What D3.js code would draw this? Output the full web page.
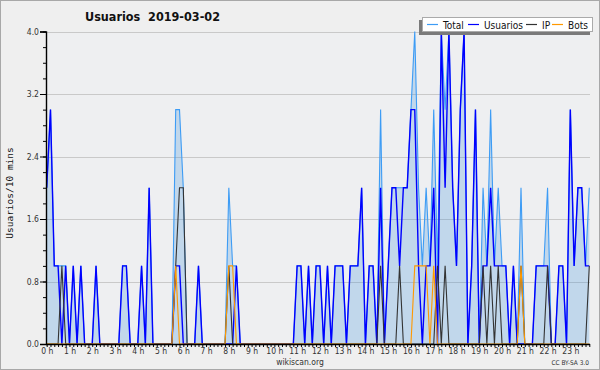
<!DOCTYPE html>
<html>
<head>
<meta charset="utf-8">
<script src="https://cdn.jsdelivr.net/npm/d3@7"></script>
<style>
body { margin: 0; background: #fff; }
svg { display: block; font-family: "DejaVu Sans Condensed", "DejaVu Sans", sans-serif; }
</style>
</head>
<body>
<svg id="chart" width="600" height="370"></svg>
<script>
"use strict";

// one value per 10 minutes, 0:00 -> 23:50
const usuarios = [
    2, 3, 1, 1, 0, 1, 0, 1, 0, 1,
    0, 0, 0, 1, 0, 0, 0, 0, 0, 0,
    1, 1, 0, 0, 0, 1, 0, 2, 0, 0,
    0, 0, 0, 0, 1, 1, 0, 0, 0, 0,
    1, 0, 0, 0, 0, 0, 0, 0, 0, 0,
    1, 0, 0, 0, 0, 0, 0, 0, 0, 0,
    0, 0, 0, 0, 0, 0, 1, 1, 0, 1,
    0, 1, 1, 0, 1, 0, 1, 1, 1, 0,
    1, 1, 1, 2, 0, 1, 1, 0, 2, 0,
    1, 2, 2, 1, 2, 2, 3, 3, 1, 0,
    1, 1, 2, 0, 4, 2, 4, 2, 1, 3,
    4, 0, 1, 3, 0, 1, 1, 2, 1, 1,
    1, 1, 0, 1, 0, 0, 0, 0, 0, 1,
    1, 1, 1, 0, 0, 1, 1, 0, 3, 1,
    2, 2, 1, 1
];
const ip = [
    0, 0, 0, 0, 1, 0, 0, 0, 0, 0,
    0, 0, 0, 0, 0, 0, 0, 0, 0, 0,
    0, 0, 0, 0, 0, 0, 0, 0, 0, 0,
    0, 0, 0, 0, 1, 2, 2, 0, 0, 0,
    0, 0, 0, 0, 0, 0, 0, 0, 1, 0,
    0, 0, 0, 0, 0, 0, 0, 0, 0, 0,
    0, 0, 0, 0, 0, 0, 0, 0, 0, 0,
    0, 0, 0, 0, 0, 0, 0, 0, 0, 0,
    0, 0, 0, 0, 0, 0, 0, 0, 1, 0,
    0, 0, 0, 1, 0, 0, 0, 0, 0, 0,
    0, 0, 0, 1, 0, 1, 0, 0, 0, 0,
    0, 0, 0, 0, 0, 1, 0, 1, 0, 1,
    0, 0, 0, 0, 0, 1, 0, 0, 0, 0,
    0, 0, 1, 0, 0, 0, 0, 0, 0, 0,
    0, 0, 0, 1
];
const bots = [
    0, 0, 0, 0, 0, 0, 0, 0, 0, 0,
    0, 0, 0, 0, 0, 0, 0, 0, 0, 0,
    0, 0, 0, 0, 0, 0, 0, 0, 0, 0,
    0, 0, 0, 0, 1, 0, 0, 0, 0, 0,
    0, 0, 0, 0, 0, 0, 0, 0, 1, 1,
    0, 0, 0, 0, 0, 0, 0, 0, 0, 0,
    0, 0, 0, 0, 0, 0, 0, 0, 0, 0,
    0, 0, 0, 0, 0, 0, 0, 0, 0, 0,
    0, 0, 0, 0, 0, 0, 0, 0, 0, 0,
    0, 0, 0, 0, 0, 0, 0, 1, 1, 1,
    1, 0, 1, 0, 0, 0, 0, 0, 0, 0,
    0, 0, 0, 0, 0, 0, 0, 0, 0, 0,
    0, 0, 0, 0, 0, 1, 0, 0, 0, 0,
    0, 0, 0, 0, 0, 0, 0, 0, 0, 0,
    0, 0, 0, 0
];
const total = [
    2, 3, 1, 1, 1, 1, 0, 1, 0, 1,
    0, 0, 0, 1, 0, 0, 0, 0, 0, 0,
    1, 1, 0, 0, 0, 1, 0, 2, 0, 0,
    0, 0, 0, 0, 3, 3, 2, 0, 0, 0,
    1, 0, 0, 0, 0, 0, 0, 0, 2, 1,
    1, 0, 0, 0, 0, 0, 0, 0, 0, 0,
    0, 0, 0, 0, 0, 0, 1, 1, 0, 1,
    0, 1, 1, 0, 1, 0, 1, 1, 1, 0,
    1, 1, 1, 2, 0, 1, 1, 0, 3, 0,
    1, 2, 2, 2, 2, 2, 3, 4, 2, 1,
    2, 1, 3, 1, 4, 3, 4, 2, 1, 3,
    4, 0, 1, 3, 0, 2, 1, 3, 1, 2,
    1, 1, 0, 1, 0, 2, 0, 0, 0, 1,
    1, 1, 2, 0, 0, 1, 1, 0, 3, 1,
    2, 2, 1, 2
];
const hourLabels = ["0 h", "1 h", "2 h", "3 h", "4 h", "5 h", "6 h", "7 h", "8 h", "9 h",
    "10 h", "11 h", "12 h", "13 h", "14 h", "15 h", "16 h", "17 h", "18 h", "19 h",
    "20 h", "21 h", "22 h", "23 h"];
const yTicks = [0, 0.8, 1.6, 2.4, 3.2, 4.0];
const seriesNames = ["Total", "Usuarios", "IP", "Bots"];
const seriesColors = ["#3d9cf5", "#0000ff", "#333333", "#ff9900"];

const svg = d3.select("#chart");
const W = 600, H = 370;
const plot = {left: 46.7, right: 589.3, top: 31.5, bottom: 344};

svg.append("rect")
    .attr("x", 0.5).attr("y", 0.5)
    .attr("width", W - 1).attr("height", H - 1)
    .attr("fill", "#efefef")
    .attr("stroke", "#a8a8a8");

const xScale = d3.scaleLinear().domain([0, usuarios.length - 1]).range([plot.left, plot.right]);
const yScale = d3.scaleLinear().domain([0, 4]).range([plot.bottom, plot.top]);

// plot background
svg.append("rect")
    .attr("x", 46).attr("y", plot.top)
    .attr("width", 590 - 46).attr("height", plot.bottom - plot.top)
    .attr("fill", "#eeeff1");

// grid
svg.append("g").selectAll("line")
    .data(yTicks.filter(v => v > 0))
    .join("line")
    .attr("x1", 46).attr("x2", 590)
    .attr("y1", d => Math.round(yScale(d)) + 0.5)
    .attr("y2", d => Math.round(yScale(d)) + 0.5)
    .attr("stroke", "#c9c9c9");

// total area
const area = d3.area()
    .x((d, i) => xScale(i))
    .y0(yScale(0))
    .y1(d => yScale(d));
svg.append("path")
    .datum(total)
    .attr("d", area)
    .attr("fill", "#3d8fdc")
    .attr("fill-opacity", 0.25);

const line = d3.line()
    .x((d, i) => xScale(i))
    .y(d => yScale(d));

const series = [total, usuarios, ip, bots];
series.forEach((s, k) => {
    svg.append("path")
        .datum(s)
        .attr("d", line)
        .attr("fill", "none")
        .attr("stroke", seriesColors[k])
        .attr("stroke-width", k == 1 ? 1.4 : 1.1)
        .attr("stroke-linejoin", "miter");
});

// y axis
const yAxis = svg.append("g")
    .attr("transform", "translate(46,0)")
    .call(d3.axisLeft(yScale).tickValues(yTicks).tickFormat(d3.format(".1f")).tickSize(6).tickPadding(1));
svg.append("g")
    .attr("transform", "translate(46,0)")
    .call(d3.axisLeft(yScale).tickValues(d3.range(0, 21).map(v => v * 0.2)).tickFormat("").tickSize(3))
    .call(g => g.select(".domain").remove());

// x axis
const xAxis = svg.append("g")
    .attr("transform", `translate(0,${plot.bottom})`)
    .call(d3.axisBottom(xScale)
        .tickValues(d3.range(0, usuarios.length))
        .tickSize(3)
        .tickPadding(0.5)
        .tickFormat(i => i % 6 == 0 ? hourLabels[i / 6] : ""));

svg.selectAll(".domain").attr("stroke", "#000").attr("stroke-width", 1.4);
svg.selectAll(".tick line").attr("stroke", "#000");
svg.selectAll(".tick text")
    .attr("font-family", "\"DejaVu Sans Condensed\", \"DejaVu Sans\", sans-serif")
    .attr("font-size", 8.5)
    .attr("fill", "#333");
xAxis.select(".domain").attr("d", `M46,0.5H590`);

// title
svg.append("text")
    .attr("x", 85).attr("y", 21)
    .attr("font-size", 12.5)
    .attr("font-weight", "bold")
    .attr("fill", "#111")
    .attr("xml:space", "preserve")
    .style("white-space", "pre")
    .text("Usuarios  2019-03-02");

// y label
svg.append("text")
    .attr("transform", "translate(13,193) rotate(-90)")
    .attr("text-anchor", "middle")
    .attr("font-family", "\"DejaVu Sans Mono\", monospace")
    .attr("font-size", 9.5)
    .attr("fill", "#111")
    .text("Usuarios/10 mins");

// footer
svg.append("text")
    .attr("x", 300).attr("y", 365)
    .attr("text-anchor", "middle")
    .attr("font-size", 8.5)
    .attr("fill", "#333")
    .text("wikiscan.org");
svg.append("text")
    .attr("x", 589).attr("y", 365)
    .attr("text-anchor", "end")
    .attr("font-size", 6.5)
    .attr("fill", "#333")
    .text("CC BY-SA 3.0");

// legend
const legend = svg.append("g");
legend.append("rect")
    .attr("x", 419).attr("y", 20).attr("width", 171).attr("height", 15)
    .attr("fill", "#7a7a7a");
legend.append("rect")
    .attr("x", 422.5).attr("y", 17.5).attr("width", 170).attr("height", 14)
    .attr("fill", "#fff").attr("stroke", "#aaa");
const legendX = [427, 468, 526, 552];
const legendTextX = [443, 484, 542, 568];
seriesNames.forEach((name, k) => {
    legend.append("line")
        .attr("x1", legendX[k]).attr("x2", legendX[k] + 11)
        .attr("y1", 24.5).attr("y2", 24.5)
        .attr("stroke", seriesColors[k]).attr("stroke-width", 1.2);
    legend.append("text")
        .attr("x", legendTextX[k]).attr("y", 28.5)
        .attr("font-size", 10)
        .attr("fill", "#111")
        .text(name);
});
</script>
</body>
</html>
